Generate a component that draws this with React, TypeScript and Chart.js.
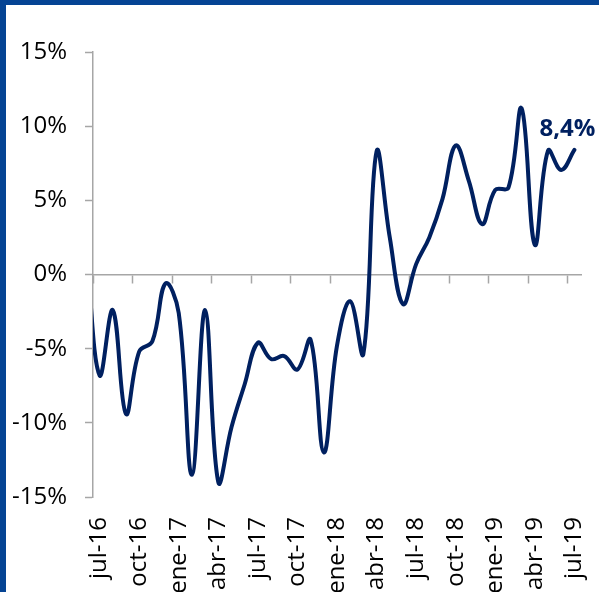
import React, { useEffect, useRef } from 'react';
import { Chart, registerables } from 'chart.js';

Chart.register(...registerables);

// Monthly categories (first one, jun-16, lies just left of the visible axis and is clipped)
const months = [
  'jun-16',
  'jul-16', 'ago-16', 'sep-16', 'oct-16', 'nov-16', 'dic-16',
  'ene-17', 'feb-17', 'mar-17', 'abr-17', 'may-17', 'jun-17',
  'jul-17', 'ago-17', 'sep-17', 'oct-17', 'nov-17', 'dic-17',
  'ene-18', 'feb-18', 'mar-18', 'abr-18', 'may-18', 'jun-18',
  'jul-18', 'ago-18', 'sep-18', 'oct-18', 'nov-18', 'dic-18',
  'ene-19', 'feb-19', 'mar-19', 'abr-19', 'may-19', 'jun-19',
  'jul-19',
];

// Year-on-year variation, %
const values = [
  1.5,
  -6.8, -2.4, -9.4, -5.2, -4.5, -0.6,
  -2.6, -13.5, -2.4, -14.0, -10.3, -7.4,
  -4.6, -5.7, -5.5, -6.4, -4.4, -12.0,
  -4.8, -1.8, -5.35, 8.3, 2.5, -2.0,
  0.7, 2.5, 5.1, 8.7, 6.3, 3.4,
  5.7, 5.85, 11.2, 2.0, 8.35, 7.05,
  8.4,
];

const firstVisible = 'jul-16';
const yTicks = [-15, -10, -5, 0, 5, 10, 15];
const labelEvery = 3;

const NAVY = '#002060';
const AXIS = '#A6A6A6';
const FRAME = '#054494';
const FONT = "'Open Sans', sans-serif";

const framePlugin = {
  id: 'frame',
  afterDraw(chart: any) {
    const ctx = chart.ctx;
    ctx.save();
    ctx.fillStyle = FRAME;
    ctx.fillRect(0, 0, 6, chart.height);
    ctx.fillRect(0, 0, chart.width, 5);
    ctx.restore();
  },
};

const lastLabelPlugin = {
  id: 'lastLabel',
  afterDatasetsDraw(chart: any) {
    const meta = chart.getDatasetMeta(0);
    const n = values.length - 1;
    const pt = meta.data[n];
    if (!pt) return;
    const ctx = chart.ctx;
    ctx.save();
    ctx.font = `bold 24px ${FONT}`;
    ctx.fillStyle = NAVY;
    ctx.textAlign = 'center';
    ctx.textBaseline = 'alphabetic';
    const txt = values[n].toFixed(1).replace('.', ',') + '%';
    ctx.fillText(txt, pt.x - 7, pt.y - 14);
    ctx.restore();
  },
};

const noSidePadding = (scale: any) => {
  scale.paddingLeft = 0;
  scale.paddingRight = 0;
};

export default function App() {
  const ref = useRef<HTMLCanvasElement | null>(null);

  useEffect(() => {
    if (!ref.current) return;
    const chart = new Chart(ref.current, {
      type: 'line',
      data: {
        labels: months,
        datasets: [
          {
            data: values,
            borderColor: NAVY,
            borderWidth: 4,
            pointRadius: 0,
            pointHoverRadius: 0,
            tension: 0.4,
            fill: false,
            borderCapStyle: 'round',
            borderJoinStyle: 'round',
            clip: 0,
            xAxisID: 'x',
            yAxisID: 'y',
          },
        ],
      },
      options: {
        animation: false,
        responsive: false,
        events: [],
        layout: { padding: { left: 0, top: 52, right: 18, bottom: 0 } },
        plugins: {
          legend: { display: false },
          tooltip: { enabled: false },
          title: { display: false },
        },
        scales: {
          x: {
            type: 'category',
            position: 'bottom',
            min: firstVisible,
            offset: true,
            grid: { display: false, drawTicks: false },
            border: { display: false },
            ticks: {
              autoSkip: false,
              maxRotation: 90,
              minRotation: 90,
              padding: 20,
              color: '#000000',
              font: { family: FONT, size: 24 },
              callback: function (this: any, value: any, index: number) {
                return index % labelEvery === 0 ? this.getLabelForValue(value) : '';
              },
            },
            afterFit(scale: any) {
              scale.height = 95;
              noSidePadding(scale);
            },
          },
          x2: {
            type: 'category',
            axis: 'x',
            position: { y: 0 },
            min: firstVisible,
            offset: true,
            grid: {
              offset: true,
              drawOnChartArea: false,
              drawTicks: true,
              tickLength: 8,
              tickWidth: 1.5,
              tickColor: (c: any) =>
                typeof c.index === 'number' && c.index % labelEvery === 0 ? AXIS : 'rgba(0,0,0,0)',
            },
            border: { display: true, color: AXIS, width: 1.5 },
            ticks: { display: false, autoSkip: false },
            afterFit(scale: any) {
              noSidePadding(scale);
            },
          },
          y: {
            type: 'linear',
            position: 'left',
            min: yTicks[0],
            max: yTicks[yTicks.length - 1],
            afterBuildTicks(scale: any) {
              scale.ticks = yTicks.map((v) => ({ value: v }));
            },
            grid: {
              drawOnChartArea: false,
              drawTicks: true,
              tickLength: 8,
              tickWidth: 1.5,
              tickColor: AXIS,
            },
            border: { display: true, color: AXIS, width: 1.5 },
            ticks: {
              padding: 18,
              color: '#000000',
              font: { family: FONT, size: 24 },
              callback: (v: any) => `${v}%`,
            },
            afterFit(scale: any) {
              scale.width = 93;
            },
          },
        },
      },
      plugins: [framePlugin, lastLabelPlugin],
    } as any);
    return () => chart.destroy();
  }, []);

  return (
    <div style={{ position: 'absolute', left: 0, top: 0, width: 599, height: 592, background: '#ffffff' }}>
      <canvas ref={ref} width={599} height={592} style={{ width: 599, height: 592, display: 'block' }} />
    </div>
  );
}
